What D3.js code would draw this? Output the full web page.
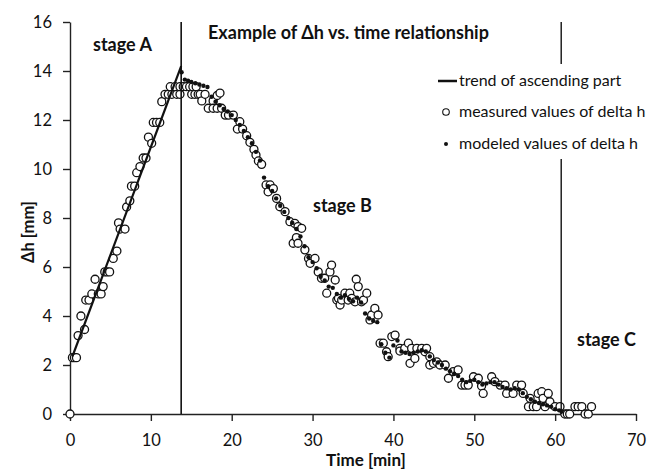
<!DOCTYPE html>
<html><head><meta charset="utf-8">
<script src="https://cdn.jsdelivr.net/npm/d3@7"></script>
<style>body{margin:0;background:#fff}svg{display:block}</style>
</head><body>
<script>
// ---- data ----
const xTicks = [0,10,20,30,40,50,60,70];
const yTicks = [0,2,4,6,8,10,12,14,16];
const trendT = [0.3, 13.75];
const trendV = [2.35, 14.2];
const stageLines = [13.75, 60.75];
const measuredT = [0,0.3,0.55,0.8,1.0,1.35,1.8,1.95,2.35,2.7,3.1,3.5,3.85,4.1,4.3,4.6,4.9,5.35,5.8,6.0,6.2,6.8,7.0,7.4,7.6,8.0,8.25,8.65,9.05,9.4,9.7,10.1,10.3,10.7,11.1,11.35,11.75,12.15,12.4,12.6,13.0,13.2,13.6,13.6,
14.0,14.4,14.8,15.05,15.2,15.45,15.6,15.85,16.1,16.3,16.7,17.1,17.7,17.7,18.2,18.2,18.55,18.75,19.2,19.6,20.2,20.7,21.0,21.35,21.85,22.25,22.75,23.0,23.3,23.7,24.25,24.5,24.75,25.15,25.55,25.95,26.6,27.2,27.6,27.8,28.0,28.2,28.2,28.65,29.05,29.5,29.7,30.3,30.7,31.1,31.5,31.75,32.15,32.35,32.8,33.0,33.2,33.4,33.6,34.0,34.4,34.6,34.85,35.25,35.4,35.65,36.05,36.3,36.7,37.1,37.3,37.7,38.1,38.35,38.75,39.15,39.35,39.8,40.2,40.8,40.8,41.4,41.85,42.05,42.25,42.65,42.9,43.5,43.9,44.1,44.5,44.5,44.95,45.35,45.75,46.4,46.8,47.4,48.0,48.45,48.85,49.25,49.9,50.5,50.9,51.1,52.15,52.55,53.2,53.8,54.0,54.8,55.25,55.85,56.05,56.7,56.9,57.3,57.7,57.9,58.35,58.5,58.75,59.15,59.35,60.0,60.6,61.2,61.5,61.8,62.45,62.85,63.3,63.7,64.1,64.5];
const measuredV = [0,2.3,2.3,2.3,3.2,4.0,3.45,4.65,4.65,4.9,5.5,4.9,4.9,5.2,5.8,5.8,5.8,6.35,6.65,7.8,7.55,7.55,8.45,8.7,9.3,9.3,9.85,10.1,10.45,10.45,11.3,11.05,11.9,11.9,11.9,12.75,13.05,13.05,13.36,13.05,13.36,13.05,13.05,13.36,
13.36,13.36,13.36,13.05,13.36,13.05,13.36,13.05,13.05,12.78,13.05,12.48,12.78,12.48,13.0,12.48,13.1,12.48,12.2,12.2,12.2,11.63,11.93,11.63,11.36,11.09,10.8,10.57,10.33,10.19,9.35,9.07,9.35,9.2,8.8,8.46,8.26,7.85,6.97,7.78,7.2,6.97,7.65,7.58,6.7,6.35,6.15,6.35,5.8,5.54,5.54,4.93,5.8,6.08,5.47,4.65,4.72,4.45,4.65,4.93,4.65,4.93,4.72,4.58,5.5,5.2,4.58,4.65,4.93,3.84,4.04,4.31,4.04,2.89,2.89,2.54,2.34,3.16,3.22,2.68,2.57,2.68,2.89,2.07,2.68,2.27,2.68,2.68,2.54,2.68,2.34,2.0,2.07,2.13,2.0,2.0,1.46,1.73,1.8,1.18,1.18,1.18,1.52,1.46,1.14,0.84,1.52,1.32,1.18,1.18,0.84,0.84,1.18,1.18,0.84,0.3,0.64,0.3,0.3,0.84,0.91,0.64,0.3,0.84,0.5,0.3,0.3,0,0,0,0.3,0.3,0.3,0,0,0.3];
const modeledT = [13.8,14.2,14.6,15.0,15.5,16.0,16.5,17.0,17.5,18.0,18.5,19.0,19.5,20.0,20.5,21.0,21.5,22.0,22.5,23.0,23.5,24.0,24.5,25.0,25.5,26.0,26.5,27.0,27.5,28.0,28.5,29.0,29.5,30.0,30.5,31.0,31.5,32.0,32.5,33.0,33.5,34.0,34.5,35.0,35.5,36.0,36.5,37.0,37.5,38.0,38.5,39.0,39.5,40.0,40.5,41.0,41.5,42.0,42.5,43.0,43.5,44.0,44.5,45.0,45.5,46.0,46.5,47.0,47.5,48.0,48.5,49.0,49.5,50.0,50.5,51.0,51.5,52.0,52.5,53.0,53.5,54.0,54.5,55.0,55.5,56.0,56.5,57.0,57.5,58.0,58.5,59.0,59.5,60.0,60.5,60.8];
const modeledV = [13.95,13.65,13.6,13.55,13.5,13.45,13.4,13.35,12.95,12.75,12.6,12.45,12.35,12.2,12.0,11.8,11.55,11.3,11.05,10.7,10.35,9.65,9.3,9.1,8.8,8.5,8.25,8.0,7.8,7.55,7.25,6.85,6.4,6.2,5.95,5.6,5.45,5.2,5.15,4.9,4.75,4.85,4.7,4.6,4.75,4.55,4.1,3.9,3.8,3.75,2.85,2.5,2.3,2.8,3.0,2.55,2.5,2.45,2.5,2.55,2.6,2.55,2.35,2.2,2.1,2.0,1.85,1.75,1.65,1.55,1.4,1.3,1.35,1.4,1.3,1.2,1.25,1.3,1.3,1.2,1.1,1.05,1.0,1.05,1.0,0.85,0.7,0.6,0.5,0.45,0.4,0.35,0.3,0.2,0.15,0.1];
const legendLabels = ["trend of ascending part","measured values of delta h","modeled values of delta h"];
const stageLabels = ["stage A","stage B","stage C"];
const titleText = "Example of \u0394h vs. time relationship";

// ---- drawing ----
const W = 659, H = 470;
const m = {l:70, t:22, r:23, b:56};
const font = "Lato, 'Open Sans', sans-serif";
const svg = d3.select("body").append("svg").attr("width", W).attr("height", H)
  .style("font-family", font);
const x = d3.scaleLinear().domain([0,70]).range([m.l, W-m.r]);
const y = d3.scaleLinear().domain([0,16]).range([H-m.b, m.t]);

const gx = svg.append("g").attr("transform", `translate(0,${y(0)})`)
  .call(d3.axisBottom(x).tickValues(xTicks).tickSize(7).tickSizeOuter(0).tickPadding(13));
const gy = svg.append("g").attr("transform", `translate(${x(0)},0)`)
  .call(d3.axisLeft(y).tickValues(yTicks).tickSize(7).tickSizeOuter(0).tickPadding(11));
[gx, gy].forEach(g => {
  g.selectAll("path,line").attr("stroke", "#222").attr("stroke-width", 1.4);
  g.selectAll("text").attr("font-size", 16.5).attr("fill", "#111").style("font-family", font);
});

// measured
svg.append("g").selectAll("circle").data(measuredT).join("circle")
  .attr("cx", (d,i) => x(d)).attr("cy", (d,i) => y(measuredV[i])).attr("r", 4)
  .attr("fill", "#fff").attr("stroke", "#111").attr("stroke-width", 1.3);
// modeled
svg.append("g").selectAll("circle").data(modeledT).join("circle")
  .attr("cx", d => x(d)).attr("cy", (d,i) => y(modeledV[i])).attr("r", 2.2)
  .attr("fill", "#111");
// trend
svg.append("path").datum(trendT.map((t,i) => [t, trendV[i]]))
  .attr("d", d3.line().x(d => x(d[0])).y(d => y(d[1])))
  .attr("stroke", "#111").attr("stroke-width", 2.2).attr("fill", "none");
// stage lines
svg.append("line").attr("x1", x(stageLines[0])).attr("x2", x(stageLines[0]))
  .attr("y1", y(16)).attr("y2", y(0)).attr("stroke", "#111").attr("stroke-width", 1.6);
svg.append("line").attr("x1", x(stageLines[1])).attr("x2", x(stageLines[1]))
  .attr("y1", y(16)).attr("y2", 64).attr("stroke", "#111").attr("stroke-width", 1.4);
svg.append("line").attr("x1", x(stageLines[1])).attr("x2", x(stageLines[1]))
  .attr("y1", 159).attr("y2", y(0)).attr("stroke", "#111").attr("stroke-width", 1.4);

// texts
const bold = (tx, px, py, size, anchor) => svg.append("text").text(tx)
  .attr("x", px).attr("y", py).attr("font-size", size).attr("font-weight", "bold")
  .attr("text-anchor", anchor || "start").attr("fill", "#111");
bold(titleText, 208, 39, 18);
bold(stageLabels[0], 93, 51, 18);
bold(stageLabels[1], 313, 212, 18);
bold(stageLabels[2], 577, 346, 18);
bold("Time [min]", 366, 466, 17, "middle");
svg.append("text").text("\u0394h [mm]").attr("transform", "translate(34,232) rotate(-90)")
  .attr("text-anchor", "middle").attr("font-size", 16.5).attr("font-weight", "bold").attr("fill", "#111");

// legend
const lg = svg.append("g");
lg.append("line").attr("x1", 438).attr("x2", 457).attr("y1", 81).attr("y2", 81)
  .attr("stroke", "#111").attr("stroke-width", 2.5);
lg.append("circle").attr("cx", 446).attr("cy", 112).attr("r", 3.3)
  .attr("fill", "#fff").attr("stroke", "#111").attr("stroke-width", 1.1);
lg.append("circle").attr("cx", 446).attr("cy", 144).attr("r", 2).attr("fill", "#111");
lg.selectAll("text").data(legendLabels).join("text").text(d => d)
  .attr("x", 459).attr("y", (d,i) => [86, 117, 149][i]).attr("font-size", 16).attr("fill", "#111");
</script>
</body></html>
